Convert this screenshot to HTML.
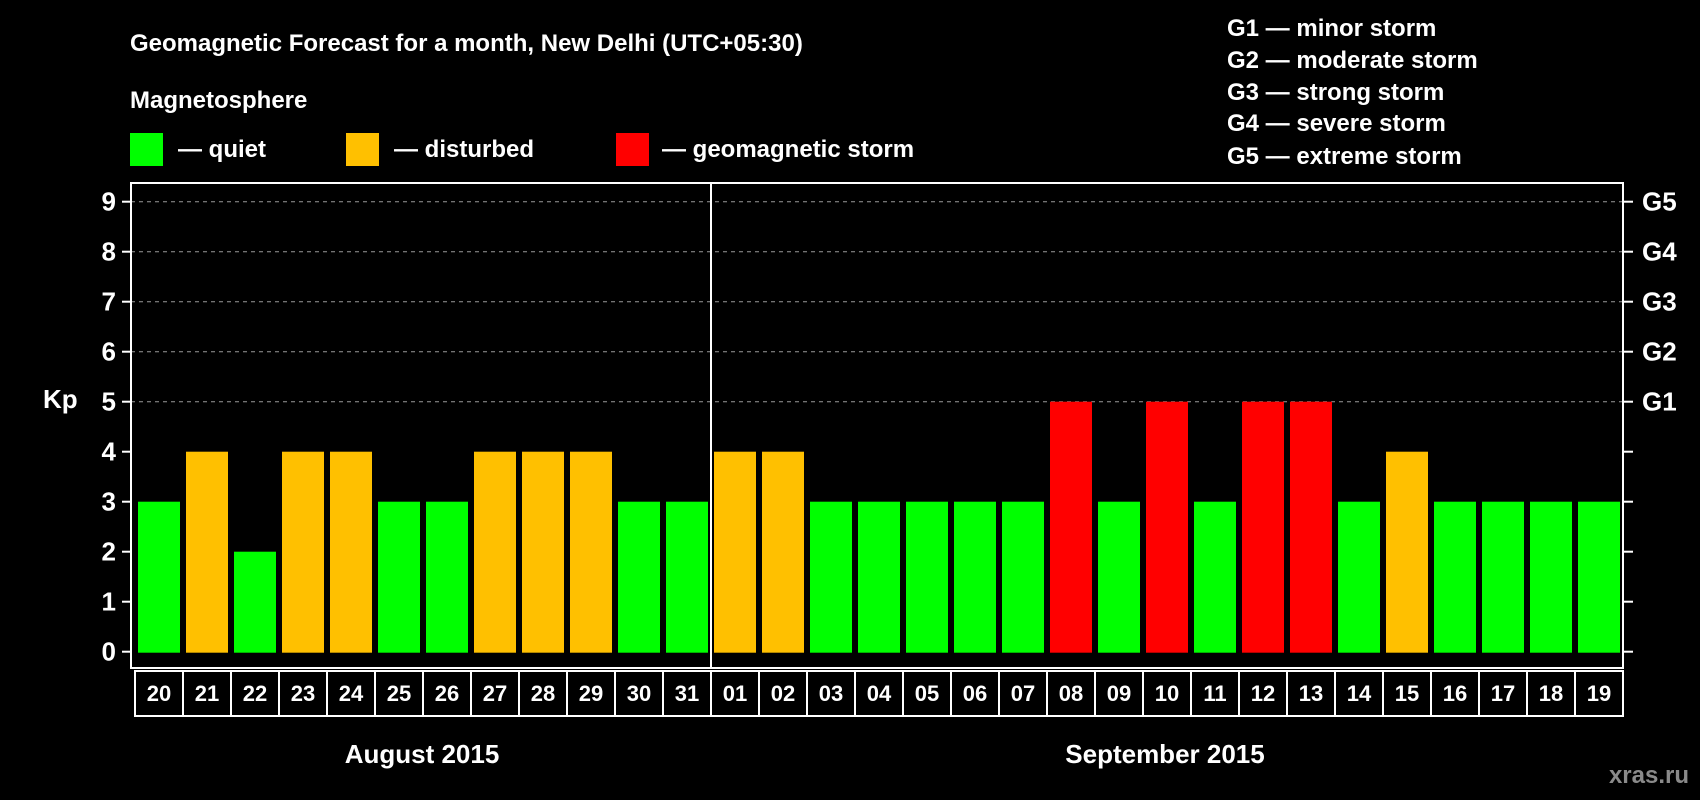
<!DOCTYPE html>
<html><head><meta charset="utf-8"><style>
html,body{margin:0;padding:0;background:#000;}
svg{display:block;font-family:"Liberation Sans",Arial,sans-serif;font-weight:bold;}
</style></head><body>
<svg id="chart" width="1700" height="800" viewBox="0 0 1700 800" xmlns="http://www.w3.org/2000/svg">
<rect width="1700" height="800" fill="#000"/>
<text x="130" y="51" fill="#fff" font-size="24">Geomagnetic Forecast for a month, New Delhi (UTC+05:30)</text>
<text x="130" y="108" fill="#fff" font-size="24">Magnetosphere</text>
<g><rect x="130" y="133" width="33" height="33" fill="#00ff00"/><text x="178" y="157" fill="#fff" font-size="24">— quiet</text></g>
<g><rect x="346" y="133" width="33" height="33" fill="#ffc000"/><text x="394" y="157" fill="#fff" font-size="24">— disturbed</text></g>
<g><rect x="616" y="133" width="33" height="33" fill="#ff0000"/><text x="662" y="157" fill="#fff" font-size="24">— geomagnetic storm</text></g>
<g fill="#fff" font-size="24">
<text x="1227" y="36">G1 — minor storm</text>
<text x="1227" y="68">G2 — moderate storm</text>
<text x="1227" y="100">G3 — strong storm</text>
<text x="1227" y="131">G4 — severe storm</text>
<text x="1227" y="164">G5 — extreme storm</text>
</g>
<text x="43" y="408" fill="#fff" font-size="26">Kp</text>
<g id="grid"></g><g id="bars"></g><g id="axes"></g>
<text x="422" y="763" fill="#fff" font-size="26" text-anchor="middle">August 2015</text>
<text x="1165" y="763" fill="#fff" font-size="26" text-anchor="middle">September 2015</text>
<text x="1689" y="783" fill="#8a8a8a" font-size="24" text-anchor="end">xras.ru</text>
</svg>
<script>
const days=["20","21","22","23","24","25","26","27","28","29","30","31","01","02","03","04","05","06","07","08","09","10","11","12","13","14","15","16","17","18","19"];
const kp=[3,4,2,4,4,3,3,4,4,4,3,3,4,4,3,3,3,3,3,5,3,5,3,5,5,3,4,3,3,3,3];
const yTicks=[0,1,2,3,4,5,6,7,8,9];
const gLabels=["G1","G2","G3","G4","G5"];
const NS="http://www.w3.org/2000/svg";
const y0=651.7, unit=50, x0=138, pitch=48, bw=42, fl=131, fr=1623, ft=183, fb=668;
const Y=v=>y0-v*unit, X=i=>x0+i*pitch;
function mk(p,t,a){const e=document.createElementNS(NS,t);for(const k in a)e.setAttribute(k,a[k]);p.appendChild(e);return e;}
const grid=document.getElementById('grid'),bars=document.getElementById('bars'),axes=document.getElementById('axes');
yTicks.forEach(v=>{
  if(v>=5){const l=mk(grid,'line',{x1:fl,x2:fr,y1:Y(v),y2:Y(v),stroke:'#999','stroke-width':1,'stroke-dasharray':'4,4'});
  
  }
  mk(axes,'line',{x1:fl-9,x2:fl,y1:Y(v),y2:Y(v),stroke:'#fff','stroke-width':2});
  mk(axes,'line',{x1:fr,x2:fr+10,y1:Y(v),y2:Y(v),stroke:'#fff','stroke-width':2});
  const t=mk(axes,'text',{x:116,y:Y(v)+9,fill:'#fff','font-size':26,'text-anchor':'end'});t.textContent=v;
  
  
});
gLabels.forEach((g,i)=>{const t=mk(axes,'text',{x:1642,y:Y(5+i)+9,fill:'#fff','font-size':26});t.textContent=g;
  
  });
kp.forEach((v,i)=>{
  const c=v>=5?'#ff0000':(v>=4?'#ffc000':'#00ff00');
  const r=mk(bars,'rect',{x:X(i),y:Y(v),width:bw,height:v*unit+1,fill:c});
  
  
  const t=mk(axes,'text',{x:X(i)+bw/2,y:701,fill:'#fff','font-size':22,'text-anchor':'middle'});t.textContent=days[i];
  
  
});
const fr0=mk(axes,'rect',{x:fl,y:ft,width:fr-fl,height:fb-ft,fill:'none',stroke:'#fff','stroke-width':2});


mk(axes,'line',{x1:711,x2:711,y1:ft,y2:fb,stroke:'#fff','stroke-width':2});
mk(axes,'line',{x1:135,x2:fr,y1:671,y2:671,stroke:'#fff','stroke-width':2});
mk(axes,'line',{x1:135,x2:fr,y1:716,y2:716,stroke:'#fff','stroke-width':2});
for(let i=0;i<=days.length;i++)mk(axes,'line',{x1:135+i*pitch,x2:135+i*pitch,y1:670,y2:717,stroke:'#fff','stroke-width':2});
</script>
</body></html>
